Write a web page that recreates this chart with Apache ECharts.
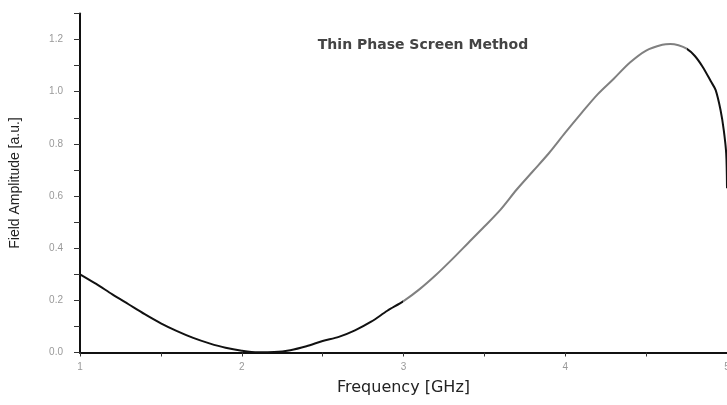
<!DOCTYPE html>
<html>
<head>
<meta charset="utf-8">
<script src="https://cdn.jsdelivr.net/npm/echarts@6/dist/echarts.min.js"></script>
<style>
    html, body { margin: 0; padding: 0; background: #fff; }
    #chart { width: 727px; height: 405px; }
</style>
</head>
<body>
<div id="chart"></div>
<script>
    // values
    var freq = [1.0, 1.1, 1.2, 1.3, 1.4, 1.5, 1.6, 1.7, 1.8, 1.9,
        2.0, 2.1, 2.2, 2.3, 2.4, 2.5, 2.6, 2.7, 2.8, 2.9,
        3.0, 3.1, 3.2, 3.3, 3.4, 3.5, 3.6, 3.7, 3.8, 3.9,
        4.0, 4.1, 4.2, 4.3, 4.4, 4.5, 4.6, 4.65, 4.7, 4.75,
        4.8, 4.85, 4.9, 4.93, 4.96, 4.98, 4.995, 5.0];
    var amplitude = [0.300, 0.263, 0.223, 0.185, 0.147, 0.112, 0.082, 0.056, 0.035, 0.018,
        0.007, 0.001, 0.002, 0.009, 0.024, 0.044, 0.060, 0.085, 0.118, 0.160,
        0.197, 0.243, 0.297, 0.357, 0.420, 0.483, 0.548, 0.625, 0.695, 0.765,
        0.843, 0.918, 0.990, 1.050, 1.112, 1.158, 1.180, 1.183, 1.178, 1.165,
        1.138, 1.095, 1.040, 1.006, 0.930, 0.853, 0.763, 0.630];
    var titleText = 'Thin Phase Screen Method';

    var chart = echarts.init(document.getElementById('chart'));

    var points = freq.map(function (f, i) {
        return [f, amplitude[i]];
    });

    chart.setOption({
        backgroundColor: '#fff',
        animation: false,
        grid: {
            left: 80,
            right: 0,
            top: 13.5,
            bottom: 52.5,
            outerBoundsMode: 'none'
        },
        title: {
            text: titleText,
            left: 418,
            top: 33,
            textAlign: 'center',
            textStyle: {
                fontFamily: 'DejaVu Sans',
                fontSize: 14,
                fontWeight: 'bold',
                color: '#444'
            }
        },
        visualMap: {
            show: false,
            type: 'piecewise',
            dimension: 0,
            seriesIndex: 0,
            pieces: [
                {lt: 3.0, color: '#111'},
                {gte: 3.0, lt: 4.75, color: '#808080'},
                {gte: 4.75, color: '#111'}
            ]
        },
        xAxis: {
            type: 'value',
            min: 1,
            max: 5,
            interval: 0.5,
            name: 'Frequency [GHz]',
            nameLocation: 'middle',
            nameGap: 27,
            nameTextStyle: {
                fontFamily: 'DejaVu Sans',
                fontSize: 16,
                color: '#222'
            },
            axisLine: {
                onZero: false,
                lineStyle: {color: '#111', width: 2}
            },
            axisTick: {
                length: 4,
                lineStyle: {color: '#333'}
            },
            axisLabel: {
                margin: 10,
                fontFamily: 'Liberation Sans',
                fontSize: 10,
                color: '#999',
                formatter: function (v) {
                    return v % 1 === 0 ? String(v) : '';
                }
            },
            splitLine: {show: false}
        },
        yAxis: {
            type: 'value',
            min: 0,
            max: 1.3,
            interval: 0.1,
            name: 'Field Amplitude [a.u.]',
            nameLocation: 'middle',
            nameGap: 58,
            nameTextStyle: {
                fontFamily: 'Liberation Sans',
                fontSize: 14,
                color: '#222'
            },
            axisLine: {
                show: true,
                lineStyle: {color: '#111', width: 2}
            },
            axisTick: {
                show: true,
                length: 6,
                lineStyle: {color: '#333'}
            },
            axisLabel: {
                margin: 17,
                fontFamily: 'Liberation Sans',
                fontSize: 10,
                color: '#999',
                formatter: function (v) {
                    var n = Math.round(v * 10);
                    return n % 2 === 0 && n <= 12 ? (n / 10).toFixed(1) : '';
                }
            },
            splitLine: {show: false}
        },
        series: [
            {
                type: 'line',
                data: points,
                smooth: 0.3,
                showSymbol: false,
                lineStyle: {width: 2}
            }
        ]
    });
</script>
</body>
</html>
